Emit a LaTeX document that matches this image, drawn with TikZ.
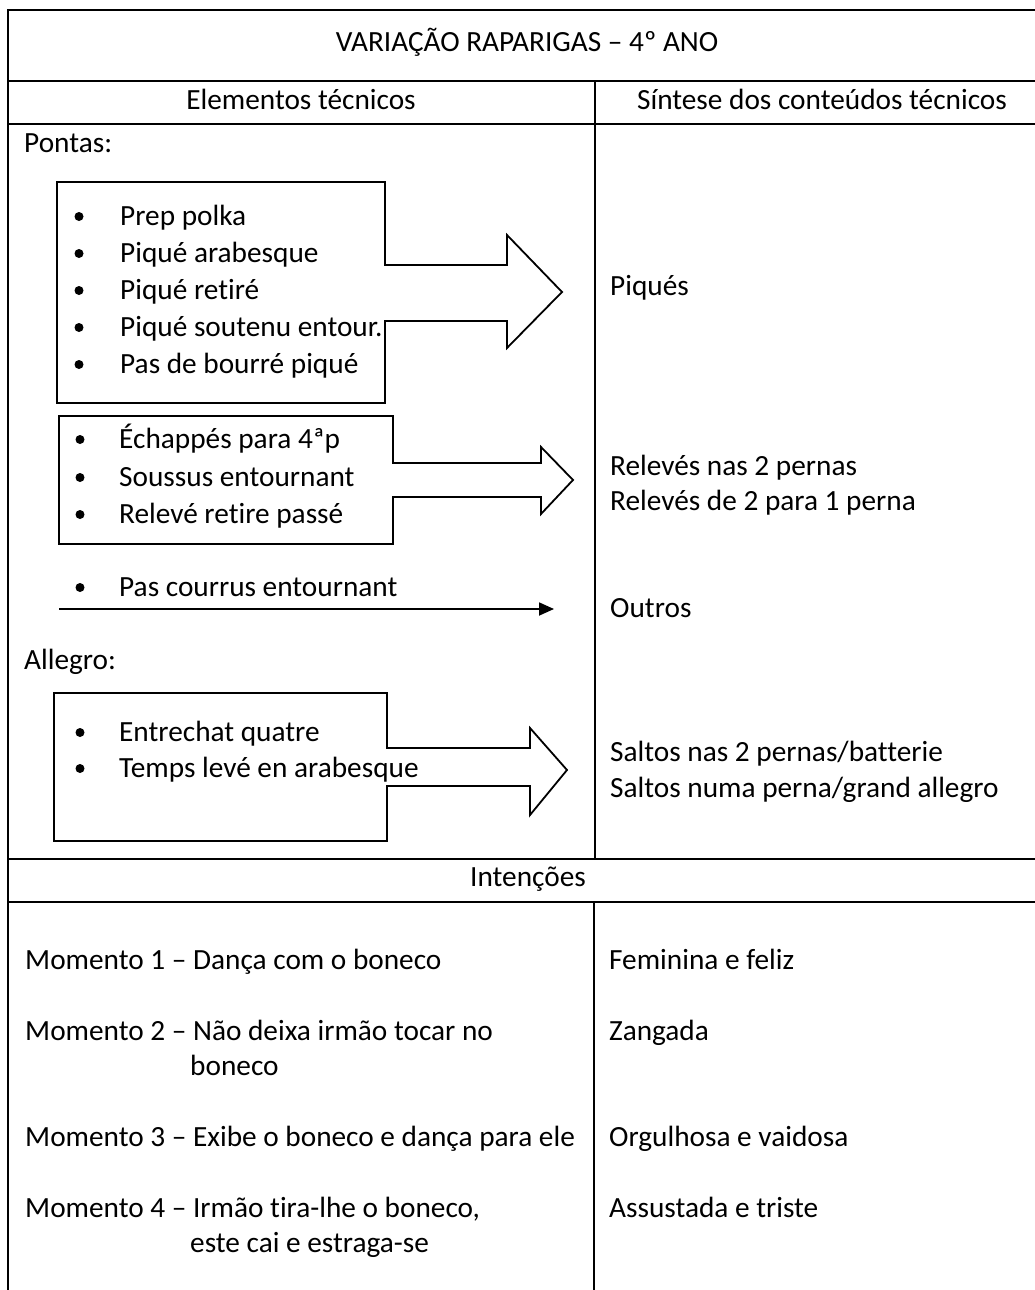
\documentclass[tikz,border=0pt]{standalone}
\usepackage{fontspec}
\setmainfont{Carlito}[Ligatures={NoCommon}]
\usetikzlibrary{arrows.meta}
\begin{document}
\begin{tikzpicture}[x=1pt,y=-1pt,
  txt/.style={anchor=base west, inner sep=0pt, font=\fontsize{29.3}{35}\selectfont},
  ctxt/.style={anchor=base, inner sep=0pt, font=\fontsize{29.3}{35}\selectfont},
  rule/.style={line width=2pt, line cap=rect},
  blockarrow/.style={line width=1.8pt, line join=miter},
  bul/.style={circle, fill=black, inner sep=0pt, minimum size=9pt}]
\useasboundingbox (0,0) rectangle (1035,1290);
\fill[white] (0,0) rectangle (1035,1290);

% table rules
\draw[rule] (8,1300) -- (8,10) -- (1050,10);
\draw[rule] (8,81) -- (1050,81);
\draw[rule] (8,124) -- (1050,124);
\draw[rule] (595,81) -- (595,859);
\draw[rule] (8,859) -- (1050,859);
\draw[rule] (8,902) -- (1050,902);
\draw[rule] (594,902) -- (594,1300);

% headers
\node[ctxt] (title) at (527,52) {VARIAÇÃO RAPARIGAS – 4º ANO};
\node[ctxt] (hleft) at (301,109) {Elementos técnicos};
\node[ctxt] (hright) at (822,109) {Síntese dos conteúdos técnicos};
\node[ctxt] (hint) at (528,886) {Intenções};

% Pontas
\node[txt] (pontas) at (24,152) {Pontas:};

% block arrow 1
\draw[blockarrow] (57,182) -- (385,182) -- (385,265) -- (507,265) -- (507,235)
  -- (562,292) -- (507,348) -- (507,321) -- (385,321) -- (385,403) -- (57,403) -- cycle;
\foreach \y/\n/\t in {225/a1/{Prep polka}, 262/a2/{Piqué arabesque}, 299/a3/{Piqué retiré}, 336/a4/{Piqué soutenu entour.}, 373/a5/{Pas de bourré piqué}}{
  \node[bul] (b\n) at (79,\y-8.5) {};
  \node[txt] (\n) at (120,\y) {\t};
}
\node[txt] (piques) at (610,295) {Piqués};

% block arrow 2
\draw[blockarrow] (59,416) -- (393,416) -- (393,463) -- (541,463) -- (541,447)
  -- (573,480) -- (541,514) -- (541,497) -- (393,497) -- (393,544) -- (59,544) -- cycle;
\foreach \y/\n/\t in {448/c1/{Échappés para 4ªp}, 486/c2/{Soussus entournant}, 523/c3/{Relevé retire passé}}{
  \node[bul] (b\n) at (80,\y-8.5) {};
  \node[txt] (\n) at (119,\y) {\t};
}
\node[txt] (rel1) at (610,475) {Relevés nas 2 pernas};
\node[txt] (rel2) at (610,510) {Relevés de 2 para 1 perna};

% simple arrow
\node[bul] (bpc) at (80,596-8.5) {};
\node[txt] (pc) at (119,596) {Pas courrus entournant};
\coordinate (pcs) at (59,609);
\coordinate (pce) at (554,609);
\draw[line width=1.8pt, -{Triangle[length=15pt,width=13pt]}] (pcs) -- (pce);
\node[txt] (outros) at (610,617) {Outros};

% Allegro
\node[txt] (allegro) at (24,669) {Allegro:};
\draw[blockarrow] (54,693) -- (387,693) -- (387,748) -- (530,748) -- (530,728)
  -- (567,770) -- (530,815) -- (530,786) -- (387,786) -- (387,841) -- (54,841) -- cycle;
\foreach \y/\n/\t in {741/e1/{Entrechat quatre}, 777/e2/{Temps levé en arabesque}}{
  \node[bul] (b\n) at (80,\y-8.5) {};
  \node[txt] (\n) at (119,\y) {\t};
}
\node[txt] (sal1) at (610,761) {Saltos nas 2 pernas/batterie};
\node[txt] (sal2) at (610,797) {Saltos numa perna/grand allegro};

% Intencoes
\node[txt] (m1) at (25,969) {Momento 1 – Dança com o boneco};
\node[txt] (m2) at (25,1040) {Momento 2 – Não deixa irmão tocar no};
\node[txt] (m2b) at (190,1075) {boneco};
\node[txt] (m3) at (25,1146) {Momento 3 – Exibe o boneco e dança para ele};
\node[txt] (m4) at (25,1217) {Momento 4 – Irmão tira-lhe o boneco,};
\node[txt] (m4b) at (190,1252) {este cai e estraga-se};
\node[txt] (i1) at (609,969) {Feminina e feliz};
\node[txt] (i2) at (609,1040) {Zangada};
\node[txt] (i3) at (609,1146) {Orgulhosa e vaidosa};
\node[txt] (i4) at (609,1217) {Assustada e triste};
\end{tikzpicture}
\end{document}
